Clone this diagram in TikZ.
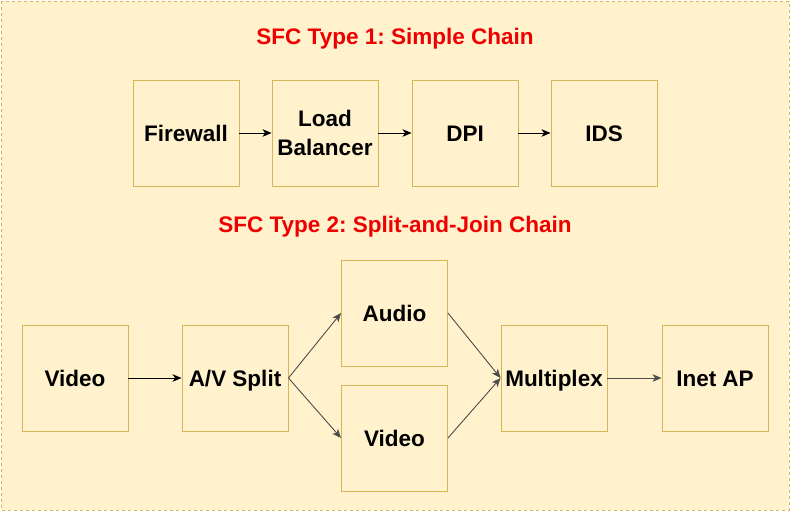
\documentclass[tikz,border=0pt]{standalone}
\usepackage{fontspec}
\setmainfont{Liberation Sans}
\usetikzlibrary{arrows.meta}
\definecolor{boxfill}{HTML}{FFF2CC}
\definecolor{boxline}{HTML}{D6B656}
\definecolor{titlered}{HTML}{EE0000}
\definecolor{arrowgray}{HTML}{4D4D4D}
\frenchspacing

\begin{document}
\begin{tikzpicture}[x=1pt, y=-1pt,
	vnf/.style={draw=boxline, fill=boxfill, line width=0.9pt, minimum width=106pt, minimum height=106pt,
		inner sep=0pt, align=center, font=\fontsize{22.5}{29}\selectfont\bfseries},
	oneline/.style={vnf, text height=16.1pt, text depth=0pt},
	heading/.style={text=titlered, font=\fontsize{22.5}{27}\selectfont\bfseries, text height=16.1pt, text depth=0pt},
	link/.style={-{Stealth[length=9pt, width=7.5pt, inset=2.5pt]}, line width=0.9pt}]
	\useasboundingbox (0,0) rectangle (791,512);
	\draw [boxline, fill=boxfill, dashed, dash pattern=on 3pt off 3pt, line width=0.8pt] (1,1) rectangle (789,510);

	% type 1
	\node [heading] (T1) at (395,36) {SFC Type 1: Simple Chain};
	\node [oneline] (FW) at (186,133) {Firewall};
	\node [vnf] (LB) at (325,133) {Load\\Balancer};
	\node [oneline] (DPI) at (465,133) {DPI};
	\node [oneline] (IDS) at (604,133) {IDS};
	\draw [link] (FW) -- (LB);
	\draw [link] (LB) -- (DPI);
	\draw [link] (DPI) -- (IDS);

	% type 2
	\node [heading] (T2) at (395,224) {SFC Type 2: Split-and-Join Chain};
	\node [oneline] (VIN) at (75,378) {Video};
	\node [oneline] (AVS) at (235,378) {A/V Split};
	\node [oneline] (AUD) at (394.5,313) {Audio};
	\node [oneline] (VID) at (394.5,438) {Video};
	\node [oneline] (MUX) at (554,378) {Multiplex};
	\node [oneline] (INET) at (715,378) {Inet AP};
	\draw [link] (VIN) -- (AVS);
	\draw [link, arrowgray] (AVS.east) -- (AUD.west);
	\draw [link, arrowgray] (AVS.east) -- (VID.west);
	\draw [link, arrowgray] (AUD.east) -- (MUX.west);
	\draw [link, arrowgray] (VID.east) -- (MUX.west);
	\draw [link, arrowgray] (MUX) -- (INET);
\end{tikzpicture}
\end{document}
